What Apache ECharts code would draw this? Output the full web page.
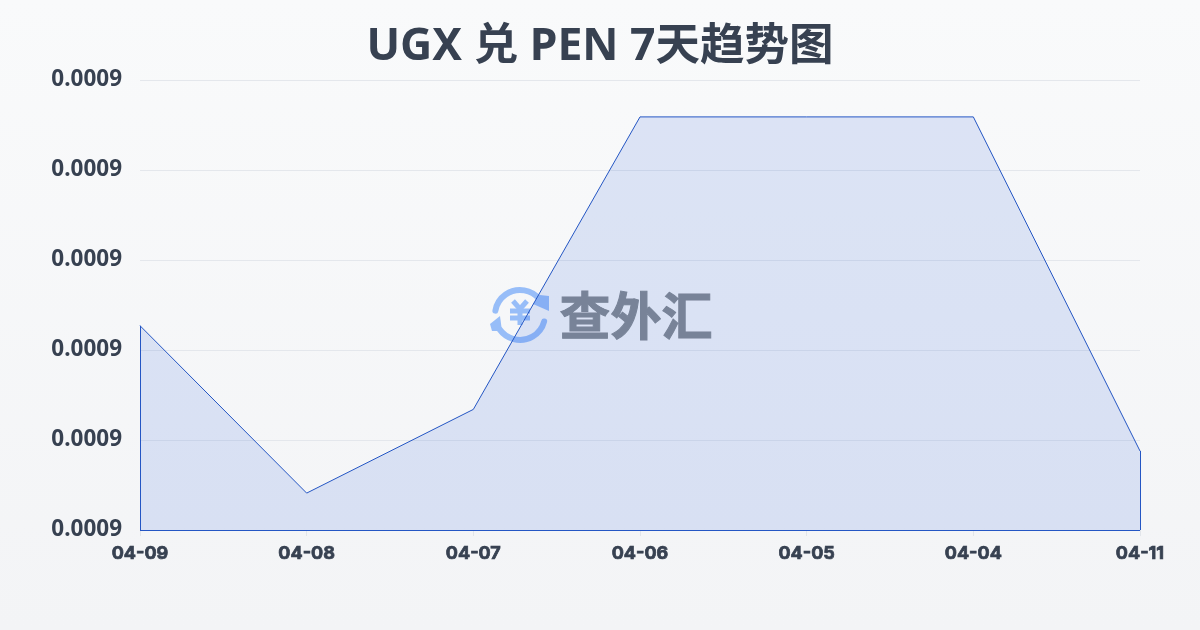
<!DOCTYPE html>
<html><head><meta charset="utf-8">
<style>html,body{margin:0;padding:0;width:1200px;height:630px;overflow:hidden}#c{width:1200px;height:630px}</style>
<script src="https://cdn.jsdelivr.net/npm/echarts@6/dist/echarts.min.js"></script>
</head><body><div id="c"></div>
<script>
const categories = ['04-09','04-08','04-07','04-06','04-05','04-04','04-11'];
const rates = [0.0008827,0.0008641,0.0008734,0.0009059,0.0009059,0.0009059,0.00086878];
const axisMin = 0.00086, axisMax = 0.00091, axisStep = 0.00001;
const titleText = 'UGX 兑 PEN 7天趋势图';
const brandText = '查外汇';
const font = '"Noto Sans","Noto Sans CJK SC",sans-serif';
const xFont = 'Inter,"Noto Sans",sans-serif';
const ink = '#374151', blue = '#2456c4';
const last = categories.length - 1;
const edge = (a, b) => [{coord: a}, {coord: b}];
const iconBlue = '#97bdf8';
const chart = echarts.init(document.getElementById('c'), null, {renderer: 'canvas'});
const arcShape = (a, b) => ({cx: 520, cy: 315, r: 25, startAngle: a, endAngle: b});
const deg = Math.PI / 180;
const iconLine = {stroke: iconBlue, lineWidth: 6, fill: null, lineCap: 'round'};
const yenLine = {stroke: iconBlue, lineWidth: 5, fill: null};
chart.setOption({
  animation: false,
  backgroundColor: new echarts.graphic.LinearGradient(0,0,0,1,[{offset:0,color:'#f9fafb'},{offset:1,color:'#f3f4f6'}]),
  title: {text: titleText, left: 'center', top: 20, textStyle: {fontFamily: font, fontSize: 44.5, fontWeight: 700, color: ink}},
  grid: {left: 140, right: 60, top: 80, bottom: 100},
  xAxis: {type: 'category', data: categories, boundaryGap: false,
    axisLine: {show: false},
    axisTick: {show: true, length: 6, lineStyle: {color: '#e2e5ea'}},
    axisLabel: {fontFamily: xFont, fontSize: 18, fontWeight: 700, color: ink, textBorderColor: ink, textBorderWidth: 0.7, margin: 15, showMinLabel: true, showMaxLabel: true}},
  yAxis: {type: 'value', min: axisMin, max: axisMax, interval: axisStep,
    axisLine: {show: false}, axisTick: {show: false},
    splitLine: {lineStyle: {color: '#e4e7ec', width: 1}},
    axisLabel: {fontFamily: font, fontSize: 22.5, fontWeight: 700, color: ink, margin: 18, formatter: v => v.toFixed(4)}},
  graphic: [
    {type:'arc', z:1, shape: arcShape(190*deg, 320*deg), style: iconLine},
    {type:'arc', z:1, shape: arcShape(15*deg, 145*deg), style: iconLine},
    {type:'polygon', z:1, shape:{points:[[540,295],[549,296],[549,311],[533,304]]}, style:{fill:iconBlue}},
    {type:'polygon', z:1, shape:{points:[[500,316],[490,324],[492,331],[502,331]]}, style:{fill:iconBlue}},
    {type:'polyline', z:1, shape:{points:[[513,301],[520,309],[527,301]]}, style: yenLine},
    {type:'line', z:1, shape:{x1:510,y1:311,x2:530,y2:311}, style: yenLine},
    {type:'line', z:1, shape:{x1:510,y1:318,x2:530,y2:318}, style: yenLine},
    {type:'line', z:1, shape:{x1:520,y1:309,x2:520,y2:325}, style: yenLine},
    {type:'text', z:1, left: 559, top: 290, style:{text:brandText, font:'700 51px "Noto Sans CJK SC"', fill:'#858a8e', stroke:'#858a8e', lineWidth:1}}
  ],
  series: [{
    type: 'line', data: rates, symbol: 'none', smooth: false, z: 3,
    lineStyle: {color: blue, width: 1},
    areaStyle: {color: 'rgba(37,90,220,0.19)'},
    markLine: {silent: true, symbol: 'none', label: {show: false},
      lineStyle: {color: blue, width: 1, type: 'solid'},
      data: [
        edge([categories[0], axisMin], [categories[0], rates[0]]),
        edge([categories[0], axisMin], [categories[last], axisMin]),
        edge([categories[last], axisMin], [categories[last], rates[last]])
      ]}
  }]
});
</script></body></html>
